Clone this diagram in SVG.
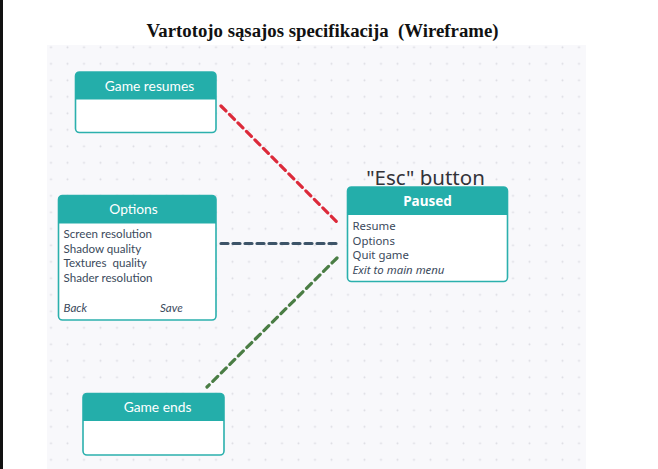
<svg xmlns="http://www.w3.org/2000/svg" width="658" height="469" viewBox="0 0 658 469">
<style>
.box{fill:#ffffff;stroke:#2bb0ad;stroke-width:1.6}
.hdr{fill:#24aeaa}
.ht{font-family:Lato,"Noto Sans",sans-serif;font-size:13.8px;fill:#ffffff;text-anchor:middle}
.it{font-family:Lato,"Noto Sans",sans-serif;font-size:11.6px;fill:#3b4a5c}
.pt{font-family:"Noto Sans","Open Sans",sans-serif;font-size:11.4px;fill:#3b4a5c}
.c{fill:none;stroke-width:3.2;stroke-linecap:round;stroke-dasharray:7 5}
</style>
<defs>
<pattern id="dots" x="42.75" y="39.05" width="16.5" height="16.5" patternUnits="userSpaceOnUse">
<circle cx="8.25" cy="8.25" r="1" fill="#dcdce2"/>
</pattern>
</defs>
<rect x="0" y="0" width="658" height="469" fill="#ffffff"/>
<rect x="0" y="0" width="3" height="469" fill="#111111"/>
<rect x="47" y="45" width="539" height="424" fill="#f8f8fb"/>
<rect x="47" y="45" width="539" height="424" fill="url(#dots)"/>
<text x="322.5" y="37" font-family="Liberation Serif,serif" font-weight="bold" font-size="18" fill="#111111" text-anchor="middle" textLength="352" lengthAdjust="spacingAndGlyphs" xml:space="preserve">Vartotojo sąsajos specifikacija  (Wireframe)</text>
<g id="connectors">
<line class="c" x1="221" y1="106" x2="337" y2="222" stroke="#dc2a3a"/>
<line class="c" x1="221" y1="243.5" x2="336" y2="243.5" stroke="#3d5468"/>
<line class="c" x1="337" y1="258" x2="207" y2="387" stroke="#4a7d44"/>
</g>
<g id="game-resumes">
<rect class="box" x="75.5" y="72" width="140.5" height="60.5" rx="4"/>
<path class="hdr" d="M75.5 99.5V76a4 4 0 0 1 4-4h132.5a4 4 0 0 1 4 4v23.5z"/>
<text class="ht" x="149.5" y="90.5">Game resumes</text>
</g>
<g id="options">
<rect class="box" x="58.5" y="195.5" width="157.5" height="124.5" rx="4"/>
<path class="hdr" d="M58.5 223.5V199.5a4 4 0 0 1 4-4h149.5a4 4 0 0 1 4 4v24z"/>
<text class="ht" x="133.5" y="214">Options</text>
<text class="it" x="63.5" y="238">Screen resolution</text>
<text class="it" x="63.5" y="252.5">Shadow quality</text>
<text class="it" x="63.5" y="267" xml:space="preserve">Textures  quality</text>
<text class="it" x="63.5" y="281.5">Shader resolution</text>
<text class="it" x="63.5" y="312" font-style="italic">Back</text>
<text class="it" x="160" y="312" font-style="italic">Save</text>
</g>
<g id="paused">
<text x="425.5" y="184.5" font-family="Noto Sans,Open Sans,sans-serif" font-size="20.5" fill="#333338" text-anchor="middle">"Esc" button</text>
<rect class="box" x="347.5" y="187" width="160" height="94.5" rx="4"/>
<path class="hdr" d="M347.5 215V191a4 4 0 0 1 4-4h152a4 4 0 0 1 4 4v24z"/>
<text x="427.5" y="205.5" font-family="Noto Sans,sans-serif" font-weight="bold" font-size="13.5" fill="#ffffff" text-anchor="middle">Paused</text>
<text class="pt" x="352.5" y="229.5">Resume</text>
<text class="pt" x="352.5" y="244.5">Options</text>
<text class="pt" x="352.5" y="259">Quit game</text>
<text class="pt" x="352.5" y="273.5" font-style="italic">Exit to main menu</text>
</g>
<g id="game-ends">
<rect class="box" x="83" y="393.5" width="141" height="61.5" rx="4"/>
<path class="hdr" d="M83 421V397.5a4 4 0 0 1 4-4h133a4 4 0 0 1 4 4V421z"/>
<text class="ht" x="157.5" y="412">Game ends</text>
</g>
</svg>
